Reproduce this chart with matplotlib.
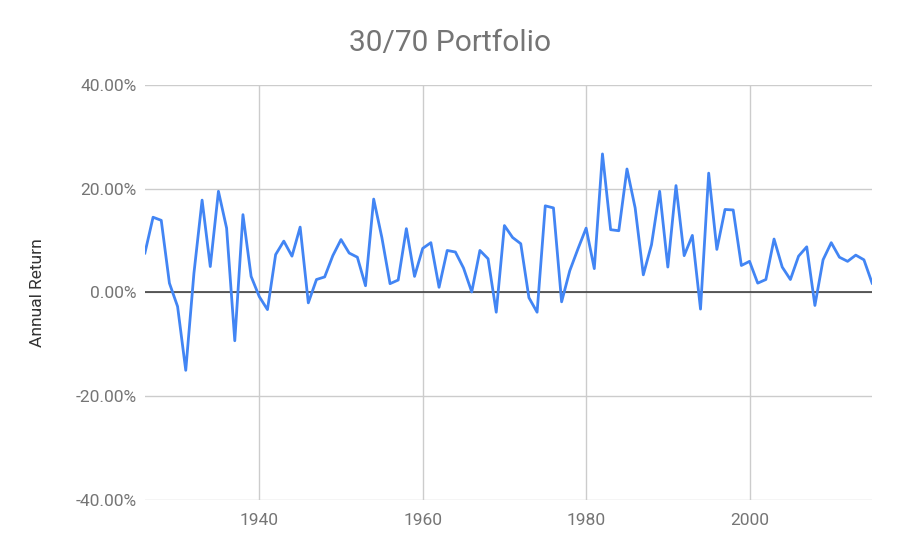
import numpy as np
import matplotlib
matplotlib.use("Agg")
import matplotlib.pyplot as plt
from matplotlib.ticker import FuncFormatter

plt.rcParams["font.family"] = ["Roboto", "DejaVu Sans"]

# annual returns (%)
years = list(range(1926, 2016))
returns = [
    7.6, 14.5, 13.9, 1.8, -2.7, -15.0, 3.7, 17.8, 5.0, 19.5,
    12.4, -9.3, 15.0, 3.1, -0.8, -3.3, 7.3, 9.9, 7.0, 12.6,
    -2.0, 2.5, 3.0, 7.1, 10.2, 7.6, 6.8, 1.3, 18.0, 10.6,
    1.7, 2.4, 12.3, 3.1, 8.5, 9.6, 1.0, 8.1, 7.8, 4.7,
    0.1, 8.1, 6.5, -3.8, 12.9, 10.6, 9.4, -1.0, -3.8, 16.7,
    16.3, -1.8, 4.2, 8.4, 12.4, 4.6, 26.7, 12.1, 11.9, 23.8,
    16.3, 3.4, 9.2, 19.5, 4.9, 20.6, 7.1, 11.0, -3.2, 23.0,
    8.3, 16.0, 15.9, 5.2, 6.0, 1.8, 2.5, 10.3, 4.9, 2.5,
    7.0, 8.8, -2.5, 6.3, 9.6, 6.8, 6.0, 7.2, 6.3, 1.8,
]

title = "30/70 Portfolio"
y_label = "Annual Return"
y_ticks = [-40, -20, 0, 20, 40]
x_ticks = [1940, 1960, 1980, 2000]

fig = plt.figure(figsize=(9, 5.55), dpi=100)
ax = fig.add_axes([0.161, 0.099, 0.808, 0.748])

ax.plot(years, returns, color="#4285f4", linewidth=2.0, zorder=3)

ax.set_xlim(1926, 2015)
ax.set_ylim(-40, 40)
ax.set_xticks(x_ticks)
ax.set_yticks(y_ticks)
ax.yaxis.set_major_formatter(FuncFormatter(lambda v, p: "%.2f%%" % v))

ax.grid(True, color="#cccccc", linewidth=1)
ax.axhline(0, color="#333333", linewidth=1.1, zorder=2)
for s in ax.spines.values():
    s.set_visible(False)
ax.tick_params(length=0, labelsize=12.5, labelcolor="#757575")
ax.tick_params(axis="y", pad=6)
ax.tick_params(axis="x", pad=9)

ax.set_ylabel(y_label, fontsize=12.5, color="#333333", labelpad=22)
fig.text(0.5, 0.922, title, ha="center", va="center", fontsize=21.5, color="#757575")

fig.savefig("out.png", dpi=100)
